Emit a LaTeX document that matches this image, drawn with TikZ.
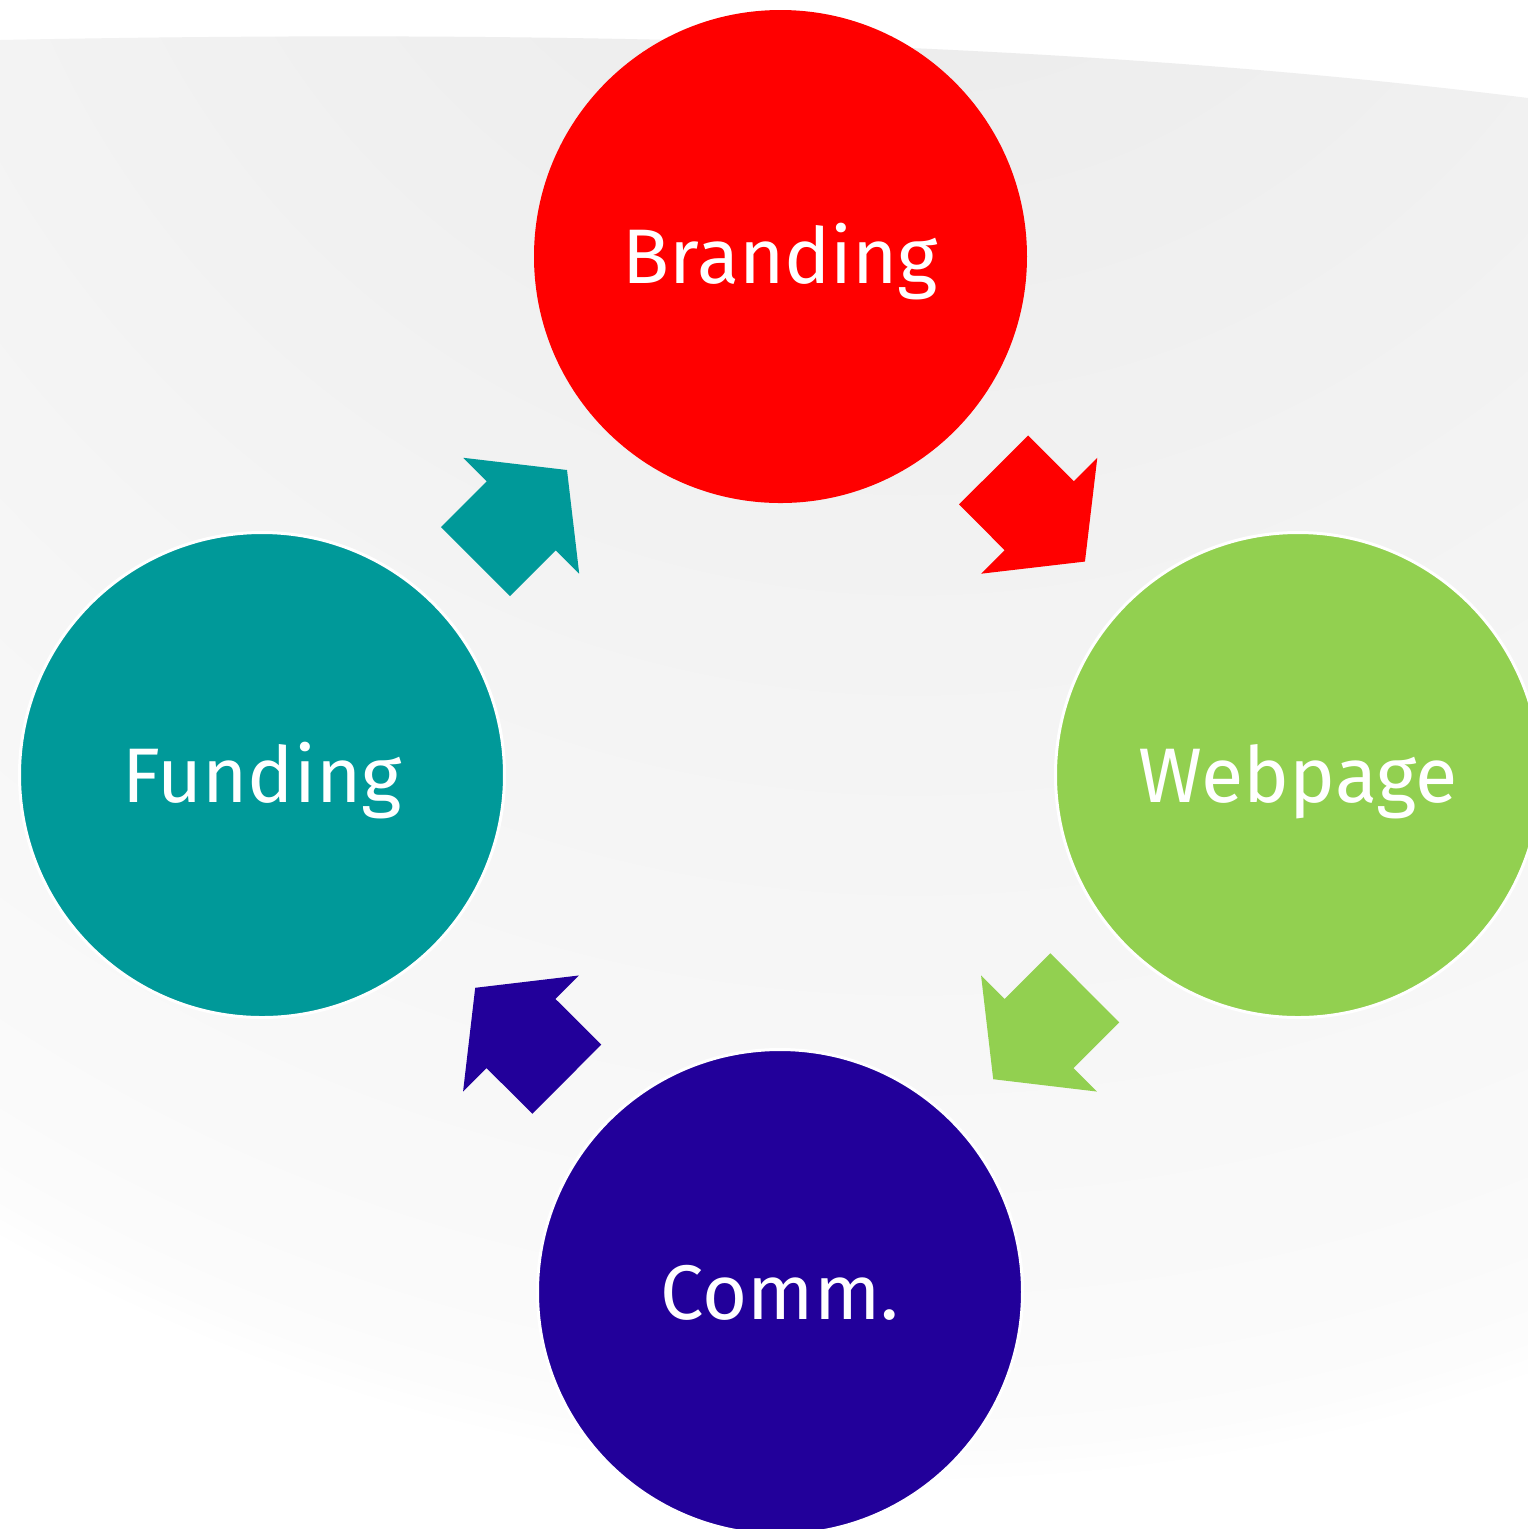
\documentclass[tikz,border=0pt]{standalone}
\usepackage{fontspec}
\setmainfont{Fira Sans}
\usetikzlibrary{calc}

\definecolor{brandred}{HTML}{FF0000}
\definecolor{webgreen}{HTML}{92D050}
\definecolor{commblue}{HTML}{22009A}
\definecolor{fundteal}{HTML}{009999}
\definecolor{bgA}{HTML}{EDEDED}
\definecolor{bgB}{HTML}{F0F0F0}
\definecolor{bgC}{HTML}{F3F3F3}
\definecolor{bgD}{HTML}{F7F7F7}
\definecolor{bgE}{HTML}{FAFAFA}
\definecolor{bgF}{HTML}{FCFCFC}

% soft backdrop, darkest towards the upper right
% (the shaded circle's radius corresponds to 25bp)
\pgfdeclareradialshading{backdrop}{\pgfpoint{0bp}{0bp}}{%
  color(0bp)=(bgA); color(5bp)=(bgA); color(8.75bp)=(bgB);
  color(12.5bp)=(bgC); color(17.5bp)=(bgD); color(21.25bp)=(bgE);
  color(22.5bp)=(bgF); color(23bp)=(white); color(50bp)=(white)}

\tikzset{
  blockarrow/.pic={
    \path[pic actions] (-64.7,-48.8) -- (0,-48.8) -- (0,-82) -- (64.7,0)
      -- (0,82) -- (0,48.8) -- (-64.7,48.8) -- cycle;
  }
}

\begin{document}
\begin{tikzpicture}[x=0.01cm,y=-0.01cm,
  bubble/.style={circle, inner sep=0pt, text=white,
    font=\fontsize{22}{26}\selectfont, text height=15.4pt, text depth=0pt},
  ringed/.style={draw=white, line width=0.03cm}]

  \useasboundingbox (0,0) rectangle (1528,1529);
  \clip (0,0) rectangle (1528,1529);
  \fill[white] (0,0) rectangle (1528,1529);

  % backdrop band with curved upper edge
  \begin{scope}
    \clip (0,40) .. controls (500,30) and (1050,38) .. (1528,98)
      -- (1528,1529) -- (0,1529) -- cycle;
    \shade[shading=backdrop] (914,-355) circle (2000);
  \end{scope}

  % the four stages
  \node[bubble, fill=brandred, minimum size=0.01cm*493] (brand) at (780.5,256.5) {Branding};
  \node[bubble, ringed, fill=webgreen, minimum size=0.01cm*485] (web) at (1298,775) {Webpage};
  \node[bubble, ringed, fill=commblue, minimum size=0.01cm*485] (comm) at (780,1292) {Comm.};
  \node[bubble, ringed, fill=fundteal, minimum size=0.01cm*485] (fund) at (262,775) {Funding};

  % block arrows halfway between consecutive stages
  \path let \p1=($(web)-(brand)$), \n1={atan2(\y1,\x1)} in
    ($(brand)!0.5!(web)$) pic[rotate=\n1, fill=brandred] {blockarrow};
  \path let \p1=($(comm)-(web)$), \n1={atan2(\y1,\x1)} in
    ($(web)!0.5!(comm)$) pic[rotate=\n1, fill=webgreen] {blockarrow};
  \path let \p1=($(fund)-(comm)$), \n1={atan2(\y1,\x1)} in
    ($(comm)!0.5!(fund)$) pic[rotate=\n1, fill=commblue] {blockarrow};
  \path let \p1=($(brand)-(fund)$), \n1={atan2(\y1,\x1)} in
    ($(fund)!0.5!(brand)$) pic[rotate=\n1, fill=fundteal] {blockarrow};
\end{tikzpicture}
\end{document}
